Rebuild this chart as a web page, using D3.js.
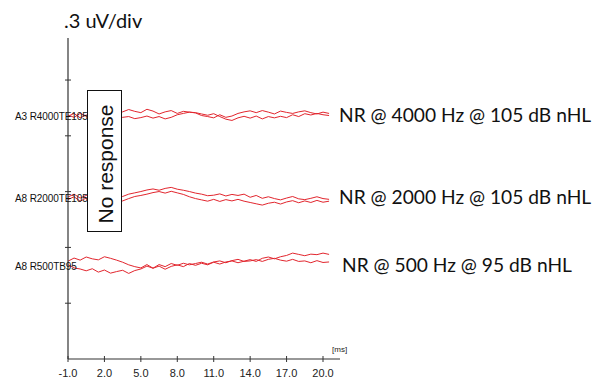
<!DOCTYPE html>
<html><head><meta charset="utf-8">
<script src="https://cdn.jsdelivr.net/npm/d3@7"></script>
<style>body{margin:0;background:#fff}svg{display:block}</style>
</head><body>
<svg id="c" width="600" height="391"></svg>
<script>
// time axis (ms)
const xTicks = [-1, 2, 5, 8, 11, 14, 17, 20];
const times = d3.range(-1, 20.51, 0.5);
// channel labels and baselines (uV)
const channelLabels = ["A3 R4000TE105", "A8 R2000TE105", "A8 R500TB95"];
const resultLabels = ["NR @ 4000 Hz @ 105 dB nHL", "NR @ 2000 Hz @ 105 dB nHL", "NR @ 500 Hz @ 95 dB nHL"];
const baselines = [1.312, 0.871, 0.505];
// waveform deviations (units of 1.4 nV), two replications per channel
const w4000a = [0,-9,6,-4,11,2,7,16,4,12,21,14,9,22,15,4,12,17,6,14,11,8,-2,-6,-11,1,-9,-4,6,12,16,9,17,11,4,15,10,6,12,16,9,4,11,6];
const w4000b = [-5,6,-11,0,-6,-15,-4,-12,-16,-9,-6,-14,-10,-4,-12,-6,-15,-9,1,6,11,9,4,-1,5,-6,-16,-21,-11,-5,-12,-4,-15,-6,-11,-5,-10,1,-6,5,0,6,1,-2];
const w2000a = [0,11,-4,6,1,9,4,-2,6,2,11,16,21,27,31,26,33,37,30,26,21,15,11,5,7,12,4,10,6,11,-1,6,-5,1,-6,-11,-4,2,-7,-10,-5,1,-6,-9];
const w2000b = [-10,1,-16,-4,-11,-21,-14,-26,-19,-15,-6,2,6,11,17,21,15,22,16,10,1,-6,-11,-16,-9,-17,-10,-15,-9,-16,-21,-26,-31,-24,-20,-27,-19,-14,-22,-15,-21,-13,-20,-16];
const w500a = [15,27,19,31,24,20,32,26,19,11,1,-6,-11,2,-12,-4,-16,-5,1,-6,6,-1,7,1,11,4,12,16,9,15,21,14,26,31,24,32,37,46,41,36,42,40,46,41];
const w500b = [1,-11,-15,-22,-14,-27,-19,-31,-25,-20,-32,-21,-15,-4,-12,2,-6,6,-1,7,1,6,11,4,12,16,9,17,22,14,16,21,14,22,26,19,15,22,14,16,9,17,10,12];
const waves = [[w4000a, w4000b], [w2000a, w2000b], [w500a, w500b]];
const yTicks = [0.3, 0.6, 0.9, 1.2, 1.5];

const svg = d3.select("#c");
const x = d3.scaleLinear().domain([-1, 20]).range([68, 323]);
const y = d3.scaleLinear().domain([0, 1.726]).range([359, 38]);

// traces
const line = d3.line().x((d,i) => x(times[i])).y(d => d);
waves.forEach((pair, c) => {
  pair.forEach(w => {
    svg.append("path")
      .attr("d", line(w.map(v => y(baselines[c] + v * 0.0014))))
      .attr("fill", "none").attr("stroke", "#e2262e").attr("stroke-width", 1)
      .attr("stroke-linejoin", "round");
  });
});

// axes
const axCol = "#333";
svg.append("line").attr("x1", 68).attr("x2", 68).attr("y1", y.range()[1]).attr("y2", y(0))
  .attr("stroke", axCol).attr("stroke-width", 1.2);
svg.append("line").attr("x1", 68).attr("x2", 340).attr("y1", y(0)).attr("y2", y(0))
  .attr("stroke", axCol).attr("stroke-width", 1.2);
yTicks.forEach(t => {
  svg.append("line").attr("x1", 65).attr("x2", 71).attr("y1", y(t)).attr("y2", y(t))
    .attr("stroke", axCol).attr("stroke-width", 1);
});
xTicks.forEach(t => {
  svg.append("line").attr("x1", x(t)).attr("x2", x(t)).attr("y1", y(0) - 3).attr("y2", y(0) + 3)
    .attr("stroke", axCol).attr("stroke-width", 1);
  svg.append("text").attr("x", x(t)).attr("y", y(0) + 18).attr("text-anchor", "middle")
    .attr("font-family", "Liberation Sans, Arial, sans-serif").attr("font-size", 11)
    .attr("fill", "#222").text(t.toFixed(1));
});
svg.append("text").attr("x", 332).attr("y", 352)
  .attr("font-family", "Liberation Sans, Arial, sans-serif").attr("font-size", 8)
  .attr("fill", "#222").text("[ms]");

// channel labels
channelLabels.forEach((l, c) => {
  svg.append("text").attr("x", 15).attr("y", y(baselines[c]) + 5)
    .attr("font-family", "Liberation Sans, Arial, sans-serif").attr("font-size", 10)
    .attr("letter-spacing", -0.1).attr("fill", "#111").text(l);
});

// No response box
svg.append("rect").attr("x", 87.5).attr("y", 90.5).attr("width", 34).attr("height", 141)
  .attr("fill", "#fff").attr("stroke", "#111").attr("stroke-width", 1);
svg.append("text").attr("transform", "translate(113,164) rotate(-90)")
  .attr("text-anchor", "middle").attr("font-family", "Liberation Sans, Arial, sans-serif")
  .attr("font-size", 21).attr("fill", "#111").text("No response");

// result labels
const rx = [339, 339, 342];
resultLabels.forEach((l, c) => {
  svg.append("text").attr("x", rx[c]).attr("y", y(baselines[c]) + 7)
    .attr("font-family", "Lato, sans-serif").attr("font-size", 19.2)
    .attr("fill", "#111").text(l);
});

// title
svg.append("text").attr("x", 64).attr("y", 28)
  .attr("font-family", "Lato, sans-serif").attr("font-size", 20)
  .attr("fill", "#111").text(".3 uV/div");
</script>
</body></html>
